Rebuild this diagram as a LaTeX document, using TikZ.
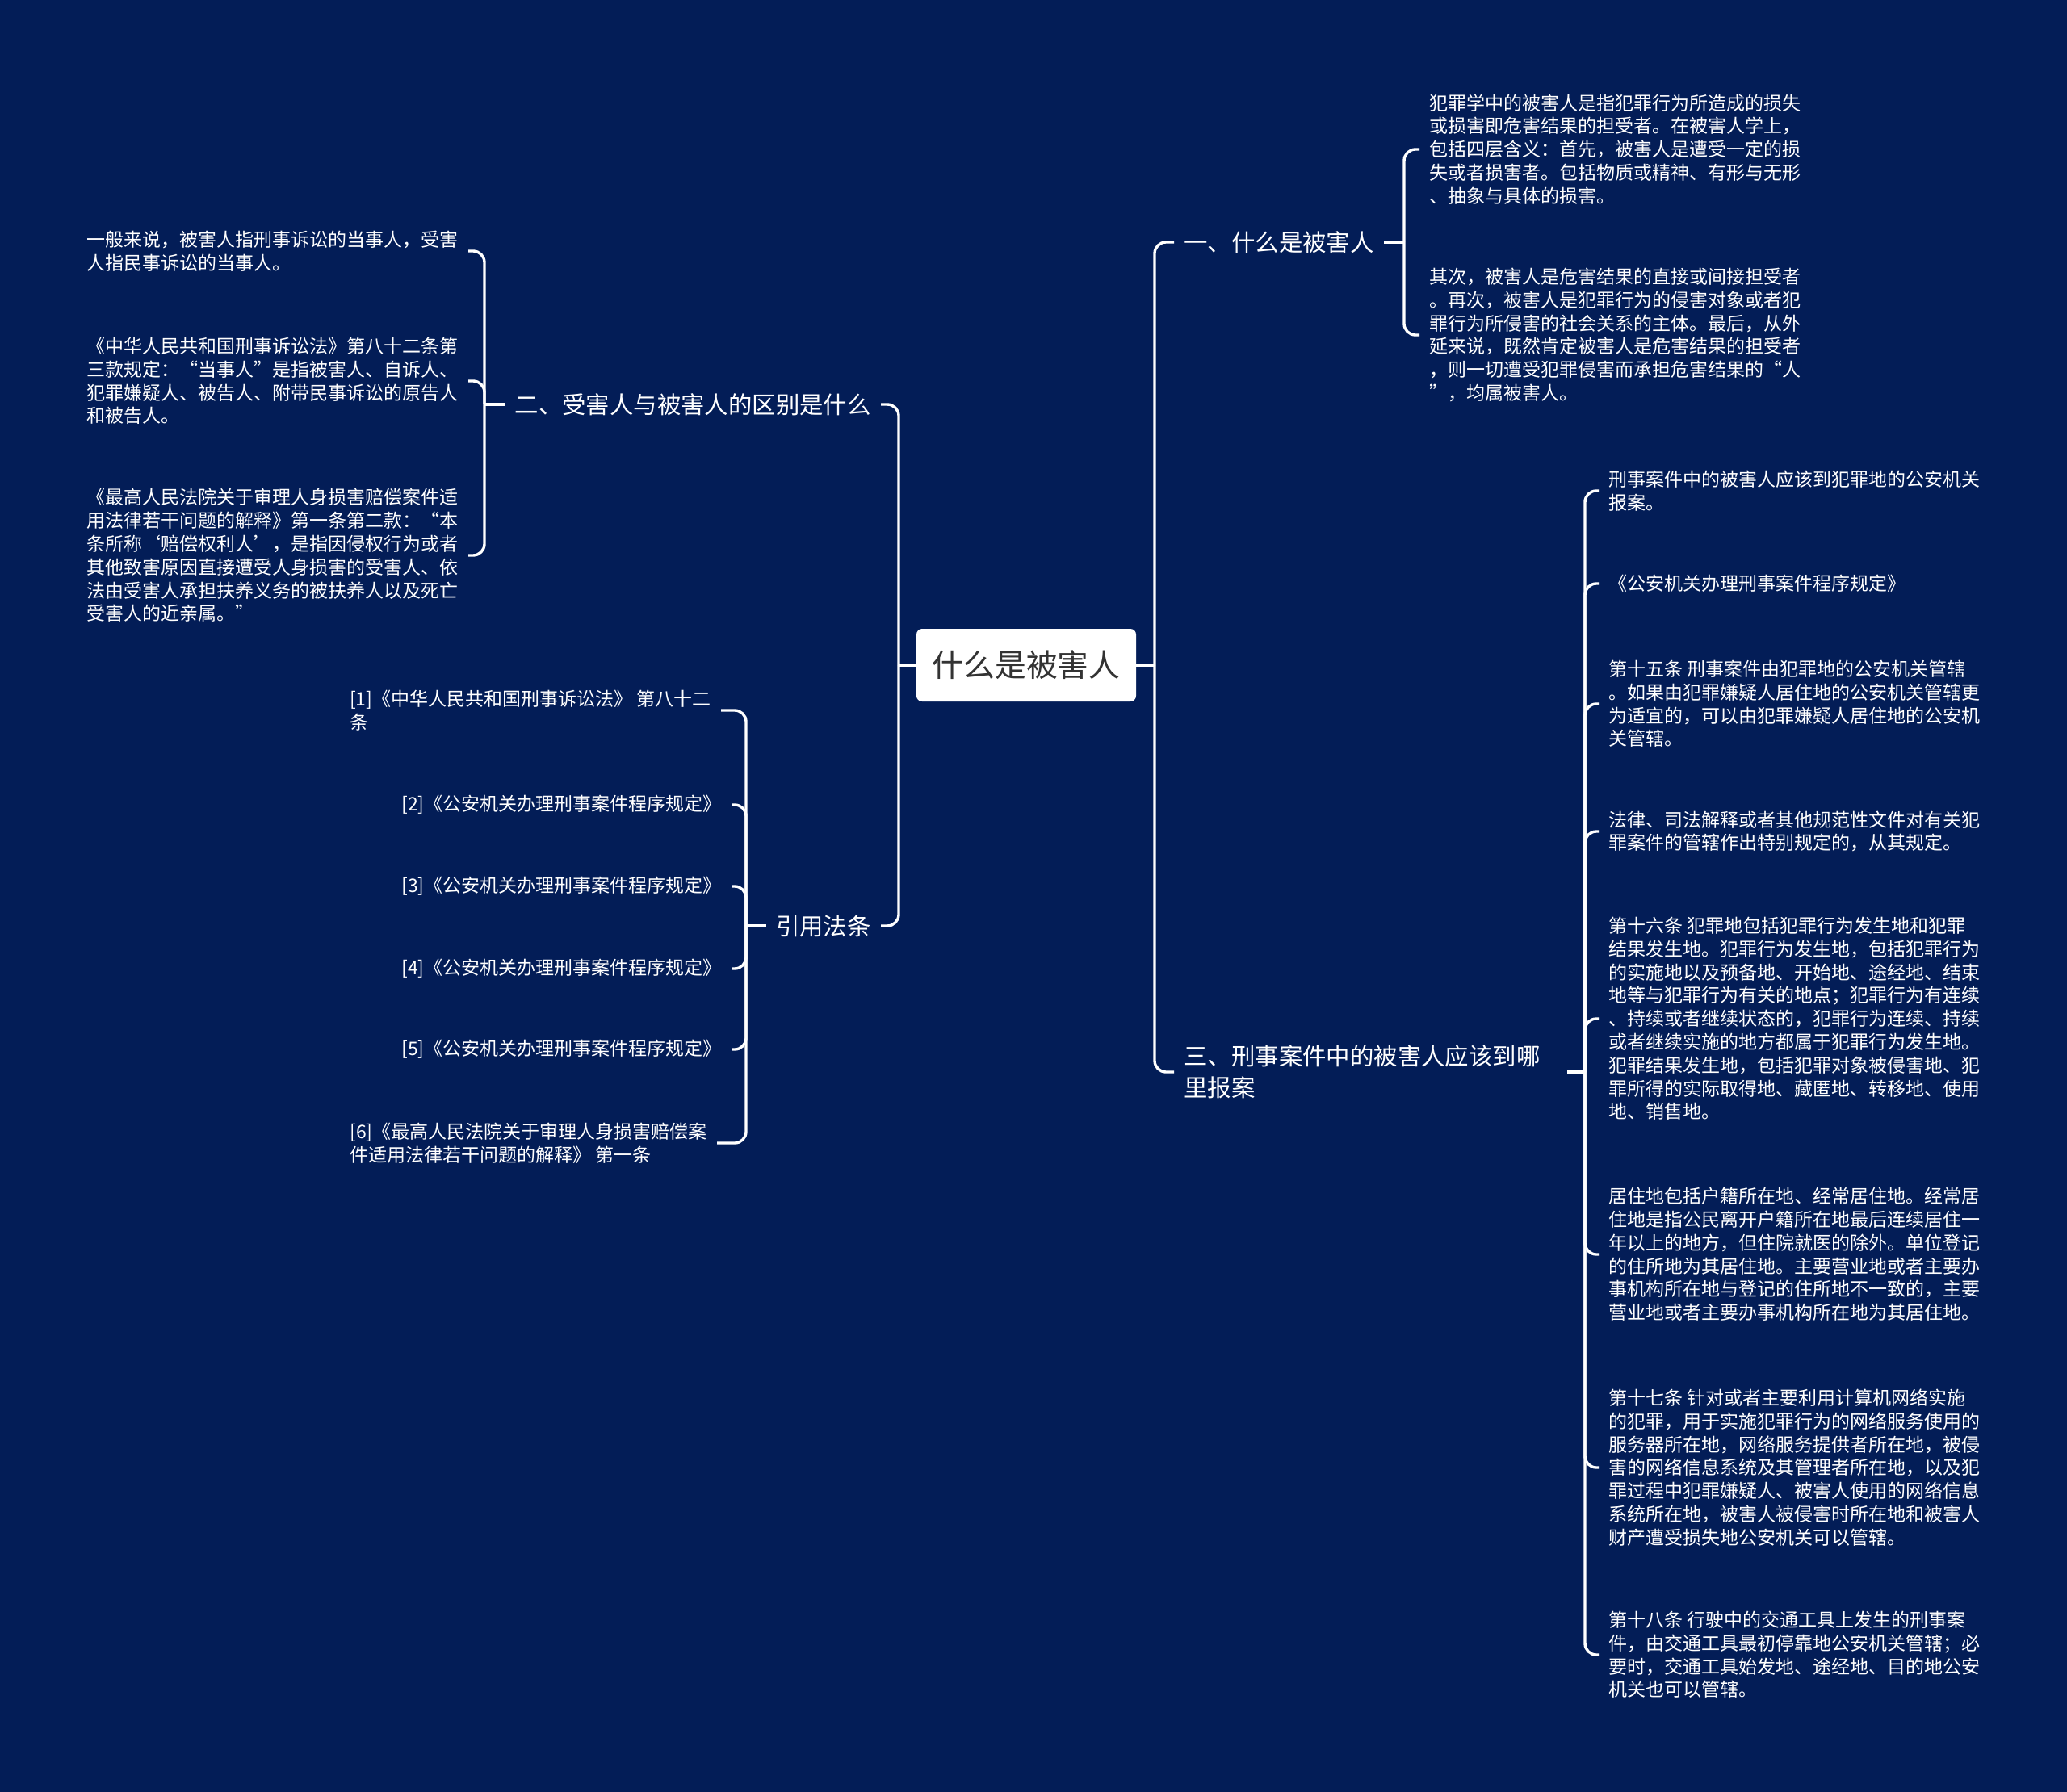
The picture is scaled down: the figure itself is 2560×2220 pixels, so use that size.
\documentclass[tikz,border=0pt]{standalone}
\usepackage{fontspec}
\setmainfont{Noto Sans CJK SC}
\usepackage{tikz}
\usetikzlibrary{positioning,calc}
\definecolor{mapnavy}{RGB}{3,29,87}
\definecolor{roottext}{RGB}{51,51,51}
\tikzset{
  rootbox/.style={fill=white, rounded corners=3.5pt, minimum width=136pt, minimum height=45pt,
    inner sep=0pt, text=roottext, font=\fontsize{19.4pt}{23pt}\selectfont},
  branch/.style={text=white, inner xsep=6pt, inner ysep=0pt, align=left,
    font=\fontsize{14.7pt}{19.5pt}\selectfont},
  leaf/.style={text=white, inner xsep=6pt, inner ysep=0pt, align=left,
    font=\fontsize{11.5pt}{14.4pt}\selectfont},
  link/.style={draw=white, line width=1.7pt, rounded corners=7pt},
}

\begin{document}
\begin{tikzpicture}[x=0.5pt,y=-0.5pt]
  % background, one unit = one pixel of the reference
  \fill[mapnavy] (0,0) rectangle (2560,2220);
  \useasboundingbox (0,0) rectangle (2560,2220);

  % root
  \node[rootbox] (root) at (1271,824) {什么是被害人};

  % branches
  \node[branch, anchor=west] (b1) at (1454,300) {一、什么是被害人};
  \node[branch, anchor=west, text width=231pt] (b3) at (1454,1328) {三、刑事案件中的被害人应该到哪\\里报案};
  \node[branch, anchor=east] (b2) at (1091,501) {二、受害人与被害人的区别是什么};
  \node[branch, anchor=east] (b4) at (1091,1147) {引用法条};

  % leaves of b1
  \node[leaf, anchor=west] (la) at (1758,185) {犯罪学中的被害人是指犯罪行为所造成的损失\\或损害即危害结果的担受者。在被害人学上，\\包括四层含义：首先，被害人是遭受一定的损\\失或者损害者。包括物质或精神、有形与无形\\、抽象与具体的损害。};
  \node[leaf, anchor=west] (lb) at (1758,415) {其次，被害人是危害结果的直接或间接担受者\\。再次，被害人是犯罪行为的侵害对象或者犯\\罪行为所侵害的社会关系的主体。最后，从外\\延来说，既然肯定被害人是危害结果的担受者\\，则一切遭受犯罪侵害而承担危害结果的“人\\”，均属被害人。};

  % leaves of b3
  \node[leaf, anchor=west] (c1) at (1980,608) {刑事案件中的被害人应该到犯罪地的公安机关\\报案。};
  \node[leaf, anchor=west] (c2) at (1980,723) {《公安机关办理刑事案件程序规定》};
  \node[leaf, anchor=west] (c3) at (1980,872) {第十五条 刑事案件由犯罪地的公安机关管辖\\。如果由犯罪嫌疑人居住地的公安机关管辖更\\为适宜的，可以由犯罪嫌疑人居住地的公安机\\关管辖。};
  \node[leaf, anchor=west] (c4) at (1980,1030) {法律、司法解释或者其他规范性文件对有关犯\\罪案件的管辖作出特别规定的，从其规定。};
  \node[leaf, anchor=west] (c5) at (1980,1262) {第十六条 犯罪地包括犯罪行为发生地和犯罪\\结果发生地。犯罪行为发生地，包括犯罪行为\\的实施地以及预备地、开始地、途经地、结束\\地等与犯罪行为有关的地点；犯罪行为有连续\\、持续或者继续状态的，犯罪行为连续、持续\\或者继续实施的地方都属于犯罪行为发生地。\\犯罪结果发生地，包括犯罪对象被侵害地、犯\\罪所得的实际取得地、藏匿地、转移地、使用\\地、销售地。};
  \node[leaf, anchor=west] (c6) at (1980,1554) {居住地包括户籍所在地、经常居住地。经常居\\住地是指公民离开户籍所在地最后连续居住一\\年以上的地方，但住院就医的除外。单位登记\\的住所地为其居住地。主要营业地或者主要办\\事机构所在地与登记的住所地不一致的，主要\\营业地或者主要办事机构所在地为其居住地。};
  \node[leaf, anchor=west] (c7) at (1980,1818) {第十七条 针对或者主要利用计算机网络实施\\的犯罪，用于实施犯罪行为的网络服务使用的\\服务器所在地，网络服务提供者所在地，被侵\\害的网络信息系统及其管理者所在地，以及犯\\罪过程中犯罪嫌疑人、被害人使用的网络信息\\系统所在地，被害人被侵害时所在地和被害人\\财产遭受损失地公安机关可以管辖。};
  \node[leaf, anchor=west] (c8) at (1980,2050) {第十八条 行驶中的交通工具上发生的刑事案\\件，由交通工具最初停靠地公安机关管辖；必\\要时，交通工具始发地、途经地、目的地公安\\机关也可以管辖。};

  % leaves of b2
  \node[leaf, anchor=east] (l1) at (580,311) {一般来说，被害人指刑事诉讼的当事人，受害\\人指民事诉讼的当事人。};
  \node[leaf, anchor=east] (l2) at (580,472) {《中华人民共和国刑事诉讼法》第八十二条第\\三款规定：“当事人”是指被害人、自诉人、\\犯罪嫌疑人、被告人、附带民事诉讼的原告人\\和被告人。};
  \node[leaf, anchor=east] (l3) at (580,688) {《最高人民法院关于审理人身损害赔偿案件适\\用法律若干问题的解释》第一条第二款：“本\\条所称‘赔偿权利人’，是指因侵权行为或者\\其他致害原因直接遭受人身损害的受害人、依\\法由受害人承担扶养义务的被扶养人以及死亡\\受害人的近亲属。”};

  % leaves of b4
  \node[leaf, anchor=east] (r1) at (893,880) {[1]《中华人民共和国刑事诉讼法》 第八十二\\条};
  \foreach \n/\y in {2/997, 3/1098, 4/1200, 5/1300}
    \node[leaf, anchor=east] (r\n) at (906,\y) {[\n]《公安机关办理刑事案件程序规定》};
  \node[leaf, anchor=east] (r6) at (888,1416) {[6]《最高人民法院关于审理人身损害赔偿案\\件适用法律若干问题的解释》 第一条};

  % bracket joints
  \coordinate (rt) at (1430,824);
  \coordinate (lt) at (1113,824);
  \coordinate (j1) at (1739,300);
  \coordinate (j3) at (1963,1328);
  \coordinate (j2) at (600,501);
  \coordinate (j4) at (924,1147);

  % connectors
  \draw[link] (root.east) -- (rt);
  \draw[link] (root.west) -- (lt);
  \foreach \b in {b1,b3} \draw[link] (rt) |- (\b.west);
  \foreach \b in {b2,b4} \draw[link] (lt) |- (\b.east);

  \draw[link] (b1.east) -- (j1);
  \foreach \c in {la,lb} \draw[link] (j1) |- (\c.west);
  \draw[link] (b3.east) -- (j3);
  \foreach \c in {c1,c2,c3,c4,c5,c6,c7,c8} \draw[link] (j3) |- (\c.west);
  \draw[link] (b2.west) -- (j2);
  \foreach \c in {l1,l2,l3} \draw[link] (j2) |- (\c.east);
  \draw[link] (b4.west) -- (j4);
  \foreach \c in {r1,r2,r3,r4,r5,r6} \draw[link] (j4) |- (\c.east);
\end{tikzpicture}
\end{document}
